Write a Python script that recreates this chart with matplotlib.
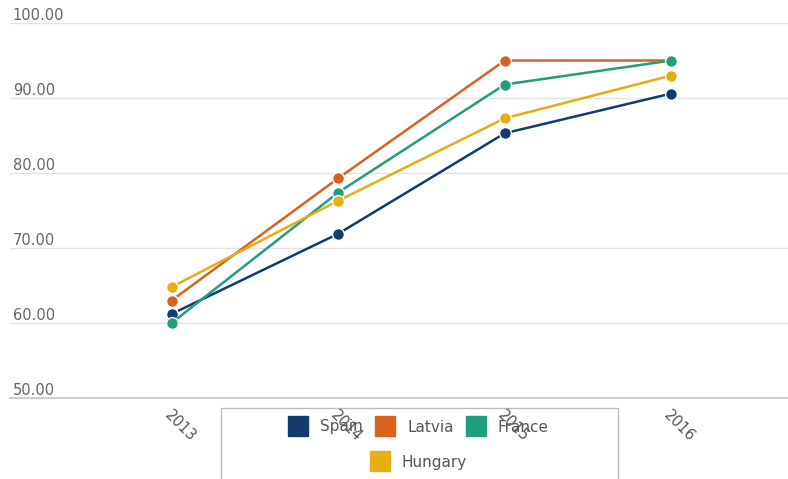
import matplotlib
matplotlib.use("Agg")
import matplotlib.pyplot as plt
from matplotlib.lines import Line2D
from matplotlib.patches import Rectangle
import matplotlib.transforms as mtrans

years = ["2013", "2014", "2015", "2016"]
spain = [61.2, 71.9, 85.3, 90.6]
latvia = [63.0, 79.3, 95.0, 95.0]
france = [60.0, 77.4, 91.8, 95.0]
hungary = [64.8, 76.3, 87.3, 93.0]
series_names = ["Spain", "Latvia", "France", "Hungary"]
yticks = [50, 60, 70, 80, 90, 100]

colors = ["#123c6e", "#d9631c", "#209e7d", "#e5ae12"]
series = [spain, latvia, france, hungary]

W, H = 788, 479
fig = plt.figure(figsize=(W / 100, H / 100), dpi=100)
ax = fig.add_axes([10 / W, 1 - 398 / H, 1 - 10 / W, (398 - 23) / H])
ax.patch.set_alpha(0)

x = list(range(len(years)))
for vals, c in zip(series, colors):
    ax.plot(x, vals, color=c, lw=1.8, marker="o", ms=8.5, mfc=c,
            mec="white", mew=1.0, clip_on=False, zorder=3)

ax.set_xlim(-0.97, 3.70)
ax.set_ylim(50, 100)
ax.set_yticks(yticks)
ax.set_yticklabels([f"{v:.2f}" for v in yticks])
ax.grid(axis="y", color="#e2e2e2", lw=1.0)
ax.set_axisbelow(True)
for s in ["top", "right", "left"]:
    ax.spines[s].set_visible(False)
ax.spines["bottom"].set_color("#cfcfcf")
ax.spines["bottom"].set_linewidth(1.5)

ax.tick_params(axis="y", length=0, pad=-2, labelsize=10.5, labelcolor="#666666")
for lbl in ax.get_yticklabels():
    lbl.set_ha("left")
    lbl.set_va("bottom")

ax.set_xticks(x)
ax.set_xticklabels(years)
ax.tick_params(axis="x", length=0, pad=11, labelsize=10.5, labelcolor="#555555")
offset = mtrans.ScaledTranslation(-5 / 100, 0, fig.dpi_scale_trans)
for lbl in ax.get_xticklabels():
    lbl.set_rotation(-45)
    lbl.set_ha("left")
    lbl.set_va("center")
    lbl.set_rotation_mode("anchor")
    lbl.set_transform(lbl.get_transform() + offset)

# legend frame
frame = Rectangle((221 / W, -0.05), (618 - 221) / W, 0.05 + (479 - 408) / H,
                  transform=fig.transFigure, facecolor="none",
                  edgecolor="#bbbbbb", lw=1.0, zorder=-1)
fig.patches.append(frame)

def handle(c):
    return Line2D([], [], marker="s", linestyle="none", markersize=15,
                  markerfacecolor=c, markeredgecolor=c)

leg1 = fig.legend([handle(c) for c in colors[:3]], series_names[:3],
                  loc="center", bbox_to_anchor=(419.5 / W, 1 - 427 / H),
                  ncol=3, frameon=False, fontsize=11, handlelength=1.0,
                  handletextpad=0.95, columnspacing=0.95, labelcolor="#555555")
leg2 = fig.legend([handle(colors[3])], series_names[3:],
                  loc="center", bbox_to_anchor=(419.5 / W, 1 - 462 / H),
                  ncol=1, frameon=False, fontsize=11, handlelength=1.0,
                  handletextpad=0.95, labelcolor="#555555")
leg1.set_zorder(-0.5)
leg2.set_zorder(-0.5)

fig.savefig("out.png", dpi=100)
